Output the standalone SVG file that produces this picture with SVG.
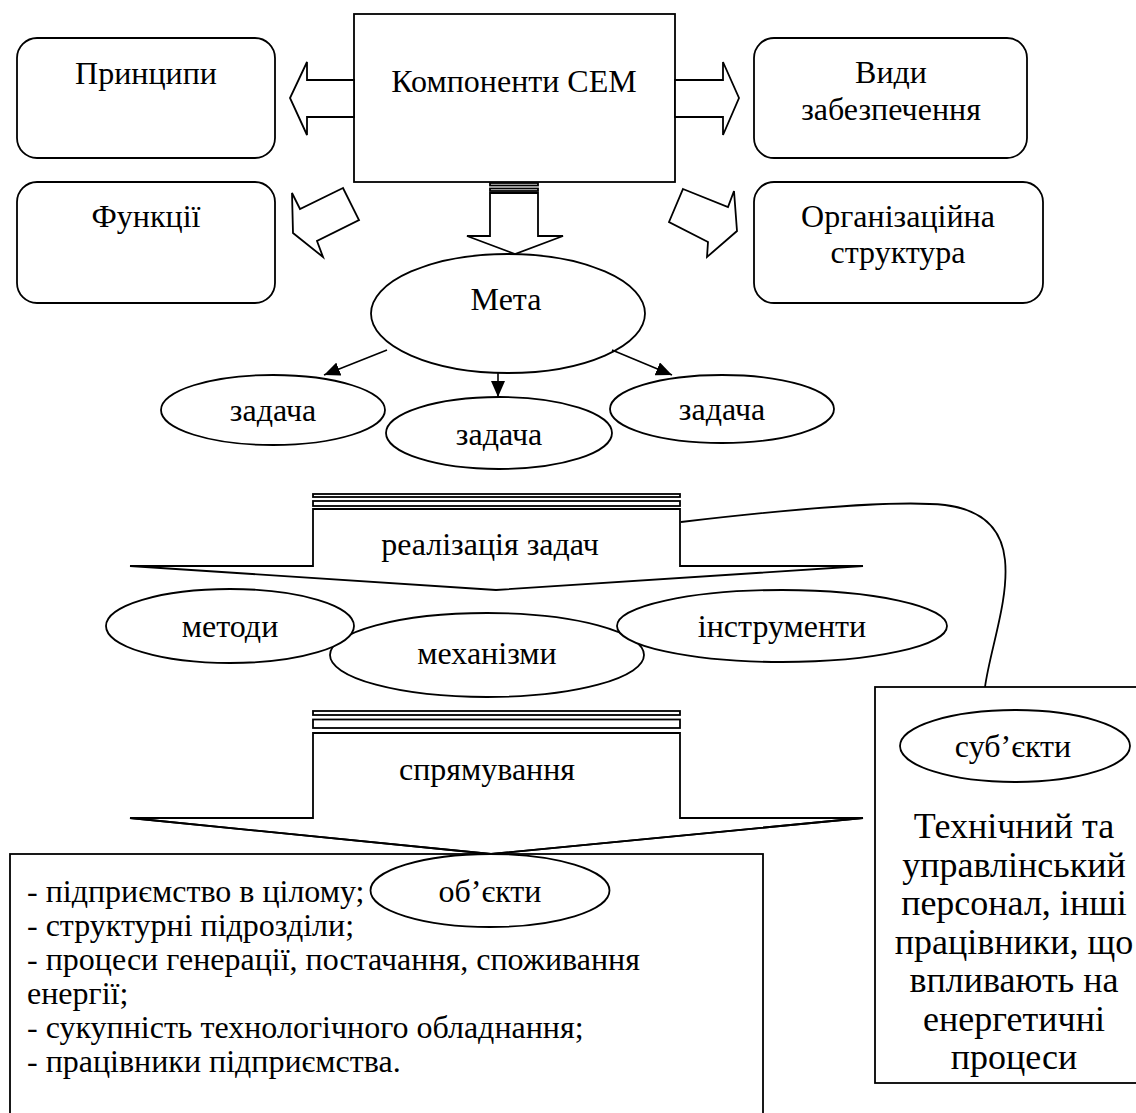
<svg xmlns="http://www.w3.org/2000/svg" width="1136" height="1113" viewBox="0 0 1136 1113">
<style>
.s{fill:#fff;stroke:#000;stroke-width:1.8}
.n{fill:none;stroke:#000;stroke-width:1.8}
.l{fill:none;stroke:#000;stroke-width:1.6}
.t{font-size:32px;fill:#000;text-anchor:middle}
.b{font-size:32px;fill:#000}
.r{font-size:36px;fill:#000;text-anchor:middle}
</style>
<defs>
<marker id="ah" refX="16" refY="7" markerWidth="16" markerHeight="14" markerUnits="userSpaceOnUse" orient="auto">
<path d="M0,0 L16,7 L0,14 Z" fill="#000"/>
</marker>
</defs>
<rect width="1136" height="1113" fill="#fff"/>
<g font-family="Liberation Serif">

<g id="komponenty">
<rect class="s" x="354" y="14" width="321" height="168"/>
<text class="t" x="514" y="92">Компоненти СЕМ</text>
</g>
<g id="pryntsypy">
<rect class="s" x="17" y="38" width="258" height="120" rx="20"/>
<text class="t" x="146" y="84">Принципи</text>
</g>
<g id="funktsii">
<rect class="s" x="17" y="182" width="258" height="121" rx="20"/>
<text class="t" x="146" y="227">Функції</text>
</g>
<g id="vydy">
<rect class="s" x="754" y="38" width="273" height="120" rx="20"/>
<text class="t" x="891" y="83">Види</text>
<text class="t" x="891" y="120">забезпечення</text>
</g>
<g id="org">
<rect class="s" x="754" y="182" width="289" height="121" rx="20"/>
<text class="t" x="898" y="227">Організаційна</text>
<text class="t" x="898" y="263">структура</text>
</g>

<g id="meta">
<ellipse class="s" cx="508" cy="313.5" rx="137" ry="59.5"/>
<text class="t" x="506" y="310">Мета</text>
</g>
<g id="zadacha1">
<ellipse class="s" cx="273" cy="410" rx="112" ry="35"/>
<text class="t" x="273" y="421">задача</text>
</g>
<g id="zadacha2">
<ellipse class="s" cx="499" cy="433" rx="113" ry="36"/>
<text class="t" x="499" y="445">задача</text>
</g>
<g id="zadacha3">
<ellipse class="s" cx="722" cy="409" rx="112" ry="34"/>
<text class="t" x="722" y="420">задача</text>
</g>

<g id="realizatsiya">
<rect class="s" x="313" y="494" width="367" height="3"/>
<rect class="s" x="313" y="501" width="367" height="5"/>
<polygon class="s" points="313,509 680,509 680,566 863,566 496,590 130,566 313,566"/>
<text class="t" x="490" y="555">реалізація задач</text>
</g>

<g id="mekhanizmy">
<ellipse class="s" cx="487" cy="655" rx="157" ry="42"/>
<text class="t" x="487" y="664">механізми</text>
</g>
<g id="metody">
<ellipse class="s" cx="230" cy="626" rx="124" ry="37"/>
<text class="t" x="230" y="637">методи</text>
</g>
<g id="instrumenty">
<ellipse class="s" cx="782" cy="626" rx="165" ry="36"/>
<text class="t" x="782" y="637">інструменти</text>
</g>

<g id="spriamuvannia">
<rect class="s" x="313" y="711" width="367" height="4"/>
<rect class="s" x="313" y="719.5" width="367" height="8.5"/>
<polygon class="s" points="313,733 680,733 680,818 863,818 491,854 130,818 313,818"/>
<text class="t" x="487" y="780">спрямування</text>
</g>

<g id="obiekty">
<rect class="s" x="10" y="854" width="753" height="270"/>
<polyline class="n" points="130,818 491,854 863,818"/>
<ellipse class="s" cx="490" cy="890.5" rx="119.5" ry="36.5"/>
<text class="t" x="490" y="902">об’єкти</text>
<text class="b" x="27" y="902">- підприємство в цілому;</text>
<text class="b" x="27" y="936">- структурні підрозділи;</text>
<text class="b" x="27" y="970">- процеси генерації, постачання, споживання</text>
<text class="b" x="27" y="1004">енергії;</text>
<text class="b" x="27" y="1038">- сукупність технологічного обладнання;</text>
<text class="b" x="27" y="1072">- працівники підприємства.</text>
</g>

<g id="subiekty">
<rect class="s" x="875" y="687" width="280" height="396"/>
<ellipse class="s" cx="1015" cy="746" rx="115" ry="36"/>
<text class="t" x="1013" y="757">суб’єкти</text>
<text class="r" x="1014" y="838">Технічний та</text>
<text class="r" x="1014" y="877">управлінський</text>
<text class="r" x="1014" y="915">персонал, інші</text>
<text class="r" x="1014" y="954">працівники, що</text>
<text class="r" x="1014" y="992">впливають на</text>
<text class="r" x="1014" y="1031">енергетичні</text>
<text class="r" x="1014" y="1069">процеси</text>
</g>
</g>

<g id="connectors">
<polygon class="s" points="354,80 307,80 307,62 290,98 307,135 307,117 354,117"/>
<polygon class="s" points="675,80 723,80 723,62 739,98 723,135 723,117 675,117"/>
<rect class="s" x="490" y="183" width="48" height="2.5"/>
<rect class="s" x="490" y="188.5" width="48" height="2.5"/>
<polygon class="s" points="490,193 538,193 538,236 563,236 515,254 467,236 490,236"/>
<polygon class="s" points="343,188 300,209 292,193 293,233 323,257 317,241 359,220"/>
<polygon class="s" points="683,189 728,207 734,191 737,231 707,257 708,242 669,222"/>
<line class="l" x1="387" y1="350" x2="324" y2="375" marker-end="url(#ah)"/>
<line class="l" x1="498" y1="373" x2="498" y2="397" marker-end="url(#ah)"/>
<line class="l" x1="612" y1="350" x2="672" y2="375" marker-end="url(#ah)"/>
<path class="n" d="M681,522 C800,508 900,500 945,505 C985,510 1002,530 1005,560 C1009,600 990,650 985,687"/>
</g>
</svg>
